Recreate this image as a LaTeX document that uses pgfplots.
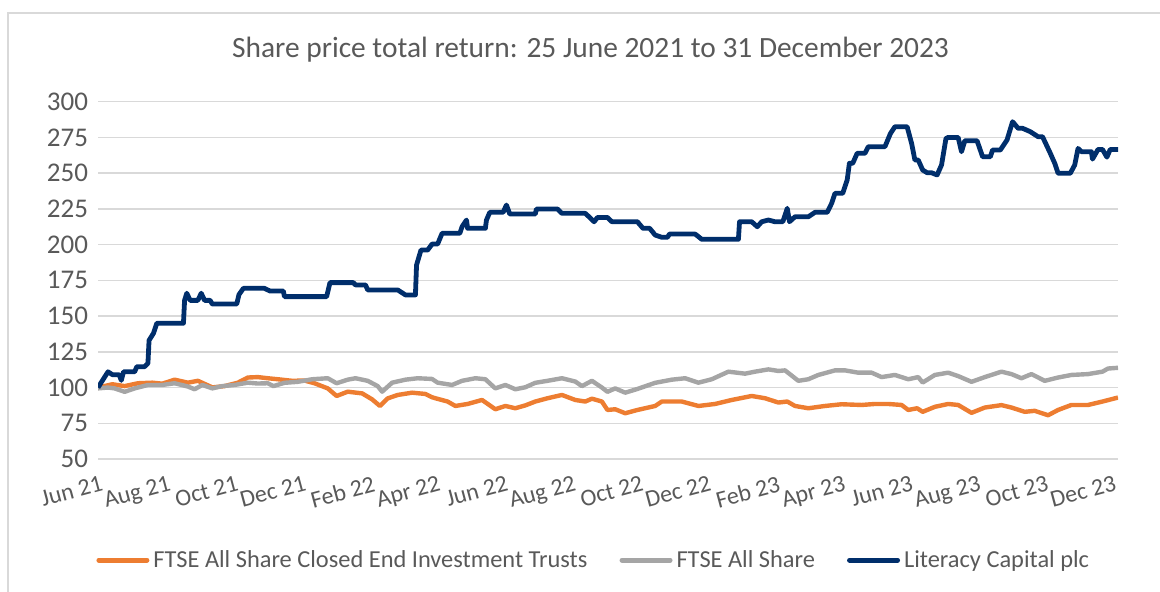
\documentclass[border=0pt]{standalone}
\usepackage{pgfplots}
\pgfplotsset{compat=1.18}
\usepackage{fontspec}
\setmainfont{Carlito}
\definecolor{cOrange}{HTML}{ED7D31}
\definecolor{cGray}{HTML}{A5A5A5}
\definecolor{cNavy}{HTML}{002E6B}
\definecolor{cText}{HTML}{595959}
\definecolor{cGrid}{HTML}{D9D9D9}

\pgfplotstableread{
d v
0 100
9 111
13 109
19 109
21 105
23 111
33 111
35 114.6
42 114.6
45 117
46 133
50 138
53 145
77 145
78 161
80 166
83 161
90 161
93 166
96 161
101 161
103 158.4
125 158.4
127 165
131 169.4
150 169.4
155 167.5
167 167.5
168 163.6
206 163.6
209 173.4
230 173.4
232 171.8
241 171.8
243 168.3
270 168.3
277 164.8
286 164.8
287 185.7
291 196.2
297 196.2
301 200.4
306 200.4
310 207.9
326 207.9
328 212.5
332 217.2
333 211.4
349 211.4
350 217.2
353 222.6
365 222.6
368 227.7
371 221.4
394 221.4
395 224.9
414 224.9
418 221.9
439 221.9
443 219
447 216
450 219
459 219
463 216
486 216
491 211.4
497 211.4
502 206.7
508 205.1
513 205.1
515 207.4
538 207.4
544 203.7
577 203.7
578 216
589 216
594 212.5
598 216
604 217.2
610 216
617 216
621 225.4
623 216
628 219.5
640 219.5
646 222.6
657 222.6
661 228.9
664 235.9
671 235.9
675 245.2
677 256.9
680 256.9
684 263.9
691 263.9
694 268.5
709 268.5
714 277.8
718 282.5
729 282.5
733 270.9
736 259.2
739 259.2
743 252.2
747 250.3
751 250.3
756 248.7
760 255.7
764 274.3
766 275
775 275
778 265
781 272.7
792 272.7
797 261.5
804 261.5
806 266.2
813 266.2
819 273.2
824 286
829 281.4
833 281.4
840 279
847 275.5
851 275.5
858 263.9
862 256.9
865 249.9
876 249.9
880 255.7
883 267.3
886 265
895 265
896 259.8
901 266.6
905 266.6
909 261.2
912 266.6
919 266.6
}\navy

\pgfplotstableread{
d v
0 100
13 102.3
24 101
36 103
49 103.4
58 102.7
69 105.5
81 103.4
90 104.7
103 100.1
114 101
126 103.4
135 107
144 107.3
153 106.5
162 105.8
175 104.7
186 104.9
195 103
207 99.4
215 94.1
225 97.1
238 95.9
247 91.7
254 87.1
261 92.4
270 94.8
283 96.4
295 95.5
301 93.2
304 92.5
315 90.2
322 87.1
333 88.5
346 91.3
358 84.8
367 87.1
376 85.5
385 87.5
394 90.2
405 92.5
418 94.8
430 91.3
439 90.2
445 92.2
454 90.2
459 84.3
466 84.8
475 82
486 84.3
502 87.1
508 90.2
526 90.2
541 87.1
556 88.5
571 91.3
589 94.1
601 92.5
613 89.5
621 90.2
628 87.1
640 85.5
655 87.1
670 88.3
688 87.8
700 88.5
712 88.5
724 87.8
730 84.3
738 85.5
743 83
754 86.5
766 88.5
775 87.8
787 82.3
799 86
814 87.7
823 86
835 83
844 83.7
856 80.6
865 84.3
877 87.8
892 87.8
905 90.2
919 93
}\orange

\pgfplotstableread{
d v
0 99.4
9 100
15 99.4
24 97
33 99.4
45 101.8
58 101.8
69 103
81 100.7
87 98.8
94 101.8
103 99.4
112 101
123 101.8
135 103.4
144 102.8
153 103
158 101
168 103.3
180 104
193 105.8
207 106.5
215 103
225 105.5
232 106.5
243 104.7
252 101
256 97.1
265 103.4
277 105.5
288 106.5
301 106
306 103.4
319 101.8
328 104.7
340 106.5
349 105.8
358 99.4
367 101.8
376 98.8
385 100.2
394 103.3
405 104.7
418 106.5
430 104.2
436 101
445 104.7
454 100
459 97
466 99.4
475 96.4
486 99
502 103.3
517 105.5
529 106.5
541 103.4
553 105.8
568 111.1
583 109.7
592 111.1
604 112.7
613 111.6
619 112
631 104.7
640 105.8
649 108.8
664 112
673 112
685 110.4
697 110.4
706 107.3
718 108.8
730 105.8
739 107.3
743 103.5
754 108.8
766 110.4
775 108
787 104
799 107.3
814 111.1
823 109.4
832 106.5
841 109.4
853 104.7
865 107
877 108.8
892 109.4
905 111.1
910 113.3
919 113.8
}\gray

\begin{document}
\begin{tikzpicture}
\useasboundingbox (0pt,0pt) rectangle (580pt,296pt);
\draw[cGrid, line width=0.75pt] (4pt,-5pt) -- (4pt,289.5pt) -- (585pt,289.5pt);
\begin{axis}[
  at={(49pt,66.5pt)}, anchor=south west,
  scale only axis, width=510pt, height=178.65pt,
  xmin=0, xmax=919, ymin=50, ymax=300,
  ytick={50,75,...,300},
  xtick={0,61,122,183,245,304,365,426,487,548,610,669,730,791,852,913},
  xticklabels={Jun 21,Aug 21,Oct 21,Dec 21,Feb 22,Apr 22,Jun 22,Aug 22,Oct 22,Dec 22,Feb 23,Apr 23,Jun 23,Aug 23,Oct 23,Dec 23},
  axis line style={draw=none},
  major tick length=0pt,
  ymajorgrids, grid style={cGrid, line width=0.75pt},
  /pgf/number format/assume math mode=true,
  tick label style={text=cText},
  yticklabel style={anchor=east, xshift=-1.5pt, font=\fontsize{13.5}{16}\selectfont},
  xticklabel style={rotate=15, anchor=north east, yshift=-7pt, xshift=0pt, inner sep=1pt, font=\fontsize{12}{14}\selectfont},
  legend columns=3,
  legend style={draw=none, fill=none, at={(0.487,-0.283)}, anchor=center,
    font=\fontsize{12.2}{14}\selectfont, text=cText,
    /tikz/every even column/.append style={column sep=14pt},
    inner xsep=0pt, inner ysep=0pt},
  legend image code/.code={\draw[#1, line width=2.5pt, line cap=round] (0pt,0pt) -- (24pt,0pt);},
  legend cell align=left,
]
\addplot[cOrange, line width=2.2pt, line join=round] table[x=d,y=v] {\orange};
\addlegendentry{FTSE All Share Closed End Investment Trusts}
\addplot[cGray, line width=2.2pt, line join=round] table[x=d,y=v] {\gray};
\addlegendentry{FTSE All Share}
\addplot[cNavy, line width=2.4pt, line join=round] table[x=d,y=v] {\navy};
\addlegendentry{Literacy Capital plc}
\end{axis}
\node[text=cText, font=\fontsize{14.7}{18}\selectfont] at (295.25pt,271pt) {Share price total return: 25 June 2021 to 31 December 2023};
\end{tikzpicture}
\end{document}
